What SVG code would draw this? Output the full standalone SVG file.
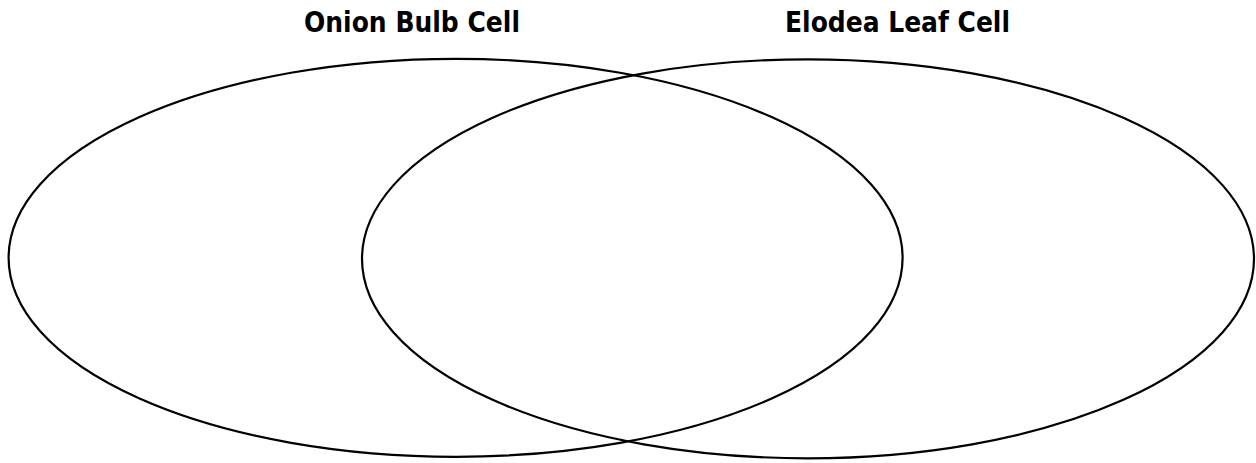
<svg xmlns="http://www.w3.org/2000/svg" width="1256" height="463" viewBox="0 0 1256 463">
<style>
.ring{fill:none;stroke:#000;stroke-width:2.2}
.title{font-family:"DejaVu Sans","Liberation Sans",sans-serif;font-weight:bold;font-size:29px;fill:#000}
</style>
<rect width="1256" height="463" fill="#fff"/>
<g id="onion">
<ellipse class="ring" cx="455.6" cy="257.8" rx="447" ry="199"/>
<text class="title" x="304" y="32" textLength="216" lengthAdjust="spacingAndGlyphs">Onion Bulb Cell</text>
</g>
<g id="elodea">
<ellipse class="ring" cx="808" cy="258.8" rx="446" ry="199.5"/>
<text class="title" x="785" y="32" textLength="225" lengthAdjust="spacingAndGlyphs">Elodea Leaf Cell</text>
</g>
<g id="connectors"></g>
</svg>
